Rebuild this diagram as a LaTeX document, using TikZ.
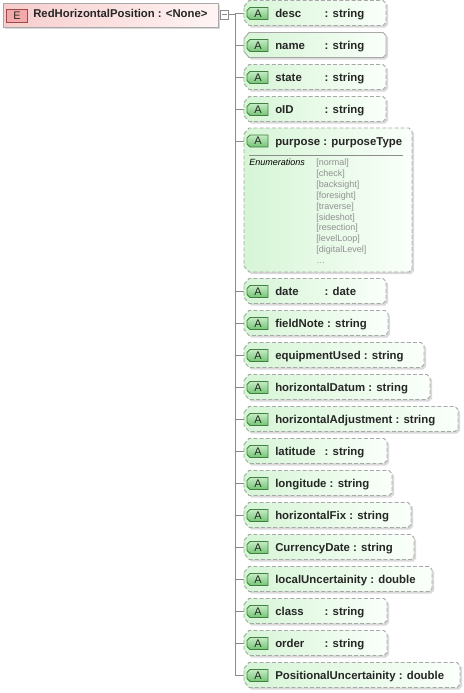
\documentclass[tikz,border=0pt]{standalone}
\usepackage{fontspec}
\setmainfont{Liberation Sans}
\definecolor{bordc}{HTML}{A8A8A8}
\definecolor{shadc}{HTML}{D9D9D9}
\definecolor{attrl}{HTML}{D6F5D6}
\definecolor{attrr}{HTML}{FAFFFA}
\definecolor{badgel}{HTML}{C4ECC4}
\definecolor{badger}{HTML}{74C474}
\definecolor{badgeb}{HTML}{3F7F3F}
\definecolor{elemfill}{HTML}{F7CCCC}
\definecolor{elemr}{HTML}{FFF4F4}
\definecolor{ebadge}{HTML}{F2A9A9}
\definecolor{ebadgeb}{HTML}{A04848}
\definecolor{linec}{HTML}{8C8C8C}
\definecolor{enumc}{HTML}{909090}
\tikzset{
  attrtxt/.style={anchor=base west, inner sep=0pt, font=\fontsize{8.55pt}{10pt}\selectfont\bfseries, text=black!85},
  badgetxt/.style={inner sep=0pt, font=\fontsize{8.25pt}{10pt}\selectfont, text=black!85},
  enumhead/.style={anchor=base west, inner sep=0pt, font=\fontsize{6.75pt}{8pt}\selectfont\itshape, text=black},
  enumval/.style={anchor=base west, inner sep=0pt, font=\fontsize{6.75pt}{8pt}\selectfont, text=enumc},
  conn/.style={draw=linec, line width=0.6pt},
  boxline/.style={draw=bordc, line width=0.7pt, left color=attrl, right color=attrr},
  dashbox/.style={boxline, dash pattern=on 3pt off 1.6pt},
}
% #1 top, #2 bottom, #3 right
\newcommand{\boxpath}[3]{(244,#1+6) -- (249,#1) -- (#3-3,#1) -- (#3,#1+3) -- (#3,#2-3) -- (#3-3,#2) -- (249,#2) -- (244,#2-6) -- cycle}
% #1 top, #2 bottom, #3 right, #4 style
\newcommand{\abox}[4]{%
  \fill[shadc, shift={(2,2)}] \boxpath{#1}{#2}{#3};
  \path[#4] \boxpath{#1}{#2}{#3};
  \draw[badgeb, line width=0.6pt, top color=badgel, bottom color=badger]
    (247,#1+10) -- (250,#1+7) -- (268,#1+7) -- (268,#1+19) -- (250,#1+19) -- (247,#1+16) -- cycle;
  \node[badgetxt] at (258,#1+13) {A};
}
% aligned: #1 id, #2 centre y, #3 right x, #4 name, #5 type, #6 style
\newcommand{\attr}[6]{%
  \abox{#2-12.5}{#2+12.5}{#3}{#6}
  \coordinate (a-#1) at (244,#2);
  \node[attrtxt] (n-#1) at (275,#2+4) {#4};
  \node[attrtxt] (t-#1) at (324.4,#2+4) {: #5};
}
% single text: #1 id, #2 centre y, #3 right x, #4 text
\newcommand{\attrs}[4]{%
  \abox{#2-12.5}{#2+12.5}{#3}{dashbox}
  \coordinate (a-#1) at (244,#2);
  \node[attrtxt] (n-#1) at (275,#2+4) {#4};
}
\begin{document}
\begin{tikzpicture}[x=0.75pt,y=-0.75pt]
\useasboundingbox (0,0) rectangle (464,693);
% element
\fill[shadc] (5,5) rectangle (220,29);
\draw[bordc, line width=0.7pt, left color=elemfill, right color=elemr] (3,3) rectangle (218,27);
\draw[ebadgeb, line width=0.6pt, fill=ebadge] (6.5,9) rectangle (27.5,22);
\node[badgetxt] (ebadge) at (17,15.5) {E};
\node[attrtxt, font=\fontsize{8.5pt}{10pt}\selectfont\bfseries] (elem) at (33,17.7) {RedHorizontalPosition : <None>};
% collapse box
\draw[linec, line width=0.6pt, fill=white] (220,10) rectangle (228.5,19);
\draw[linec, line width=0.6pt] (222,14.5) -- (226.5,14.5);
\coordinate (minus) at (228.5,14.5);
% attributes
\attr{desc}{13}{386}{desc}{string}{dashbox}
\attr{name}{45}{386}{name}{string}{boxline}
\attr{state}{77}{386}{state}{string}{dashbox}
\attr{oID}{109}{386}{oID}{string}{dashbox}
% purpose
\abox{128}{272}{412}{dashbox}
\coordinate (a-purpose) at (244,141);
\node[attrtxt] (n-purpose) at (275,145.5) {purpose : purposeType};
\draw[linec, line width=0.5pt] (249,155) -- (403,155);
\node[enumhead] (enumh) at (249,165.5) {Enumerations};
\node[enumval] (e0) at (316,165.5) {[normal]};
\node[enumval] (e1) at (316,176.4) {[check]};
\node[enumval] (e2) at (316,187.3) {[backsight]};
\node[enumval] (e3) at (316,198.2) {[foresight]};
\node[enumval] (e4) at (316,209.1) {[traverse]};
\node[enumval] (e5) at (316,220.0) {[sideshot]};
\node[enumval] (e6) at (316,230.9) {[resection]};
\node[enumval] (e7) at (316,241.8) {[levelLoop]};
\node[enumval] (e8) at (316,252.7) {[digitalLevel]};
\node[enumval] (e9) at (316,263.6) {\ldots};
\attr{date}{291}{386}{date}{date}{dashbox}
\attrs{fieldNote}{323}{388}{fieldNote : string}
\attrs{equip}{355}{424}{equipmentUsed : string}
\attrs{hdatum}{387}{430}{horizontalDatum : string}
\attrs{hadj}{419}{458}{horizontalAdjustment : string}
\attr{lat}{451}{387}{latitude}{string}{dashbox}
\attrs{lon}{483}{392}{longitude : string}
\attrs{hfix}{515}{411}{horizontalFix : string}
\attrs{cdate}{547}{414}{CurrencyDate : string}
\attrs{locu}{579}{432}{localUncertainity : double}
\attr{class}{611}{387}{class}{string}{dashbox}
\attr{order}{643}{387}{order}{string}{dashbox}
\attrs{posu}{675}{460}{PositionalUncertainity : double}
% connectors
\coordinate (jtop) at (235,14.5);
\coordinate (jbot) at (235,675);
\draw[conn] (minus) -- (jtop) -- (jbot);
\foreach \id/\yy in {desc/13,name/45,state/77,oID/109,purpose/141,date/291,fieldNote/323,equip/355,hdatum/387,hadj/419,lat/451,lon/483,hfix/515,cdate/547,locu/579,class/611,order/643,posu/675}{
  \coordinate (j-\id) at (235,\yy);
  \draw[conn] (j-\id) -- (a-\id);
}
\end{tikzpicture}
\end{document}
